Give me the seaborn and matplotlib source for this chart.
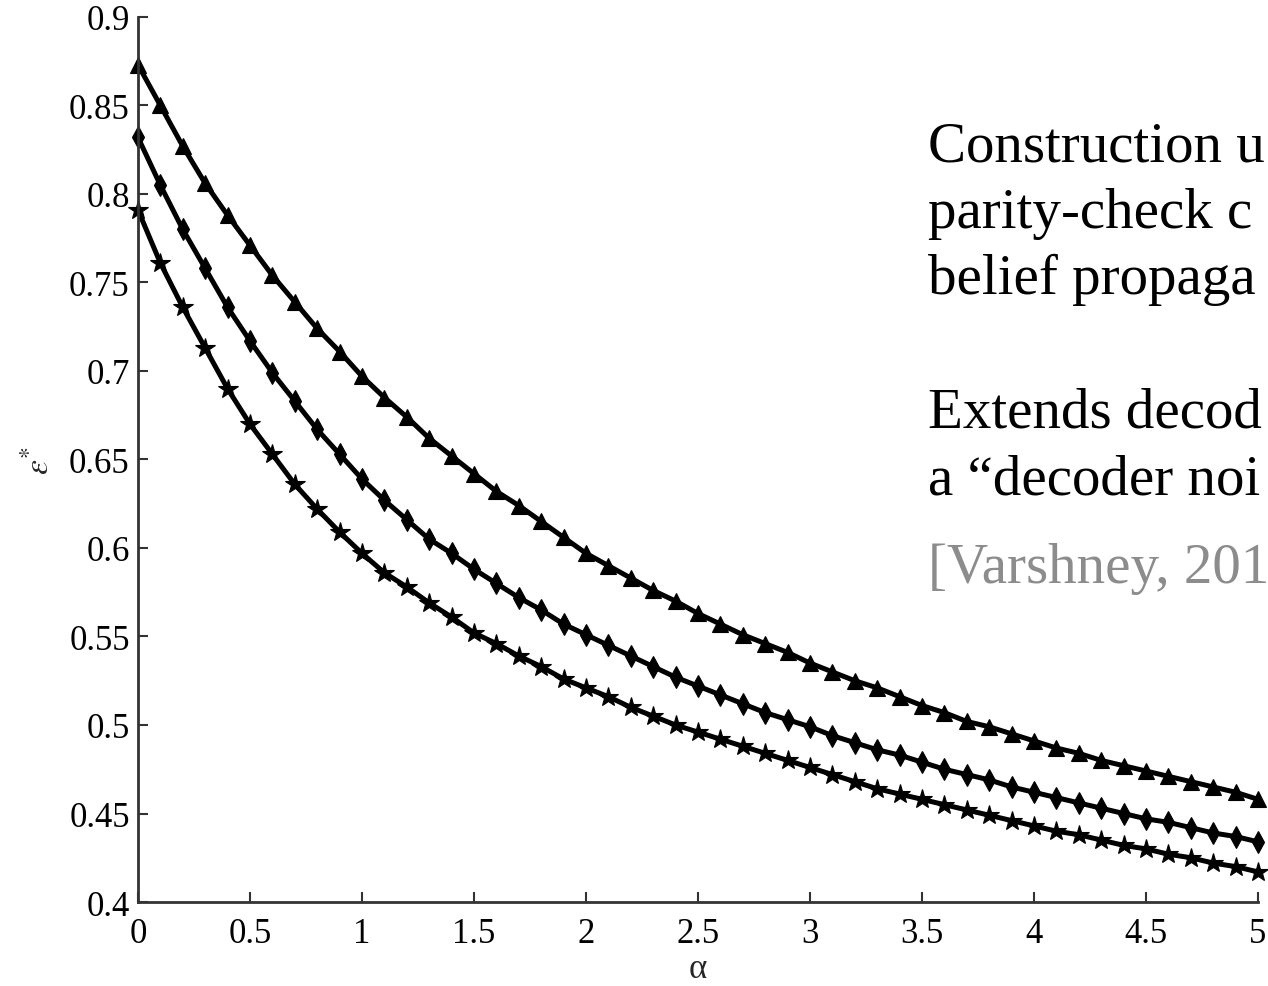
import numpy as np
import pandas as pd
import matplotlib
matplotlib.use("Agg")
import matplotlib.pyplot as plt
import seaborn as sns

# Decoding threshold eps* versus alpha for three code ensembles
alpha = np.round(np.arange(0, 5.01, 0.1), 1)

eps_triangle = [
    0.873, 0.850, 0.827, 0.806, 0.788, 0.771, 0.754, 0.739, 0.724, 0.711,
    0.697, 0.685, 0.674, 0.662, 0.652, 0.642, 0.632, 0.624, 0.615, 0.606,
    0.597, 0.590, 0.583, 0.576, 0.570, 0.563, 0.557, 0.551, 0.546, 0.541,
    0.535, 0.530, 0.525, 0.521, 0.516, 0.511, 0.507, 0.502, 0.499, 0.495,
    0.491, 0.487, 0.484, 0.480, 0.477, 0.474, 0.471, 0.468, 0.465, 0.462,
    0.458,
]
eps_diamond = [
    0.832, 0.805, 0.780, 0.758, 0.736, 0.717, 0.699, 0.683, 0.667, 0.653,
    0.639, 0.627, 0.616, 0.605, 0.597, 0.588, 0.580, 0.572, 0.565, 0.557,
    0.551, 0.545, 0.539, 0.533, 0.527, 0.522, 0.517, 0.512, 0.507, 0.503,
    0.499, 0.494, 0.490, 0.486, 0.483, 0.479, 0.475, 0.472, 0.469, 0.465,
    0.462, 0.459, 0.456, 0.453, 0.450, 0.447, 0.445, 0.442, 0.439, 0.437,
    0.434,
]
eps_star = [
    0.791, 0.761, 0.736, 0.713, 0.690, 0.670, 0.653, 0.636, 0.622, 0.609,
    0.597, 0.586, 0.578, 0.569, 0.561, 0.552, 0.546, 0.539, 0.533, 0.526,
    0.521, 0.516, 0.510, 0.505, 0.500, 0.496, 0.492, 0.488, 0.484, 0.480,
    0.476, 0.472, 0.468, 0.464, 0.461, 0.458, 0.455, 0.452, 0.449, 0.446,
    0.443, 0.440, 0.438, 0.435, 0.432, 0.430, 0.427, 0.425, 0.422, 0.420,
    0.417,
]

x_ticks = [0, 0.5, 1, 1.5, 2, 2.5, 3, 3.5, 4, 4.5, 5]
x_tick_labels = ["0", "0.5", "1", "1.5", "2", "2.5", "3", "3.5", "4", "4.5", "5"]
y_ticks = [0.4, 0.45, 0.5, 0.55, 0.6, 0.65, 0.7, 0.75, 0.8, 0.85, 0.9]
y_tick_labels = ["0.4", "0.45", "0.5", "0.55", "0.6", "0.65", "0.7", "0.75", "0.8", "0.85", "0.9"]

notes = [
    "Construction u",
    "parity-check c",
    "belief propaga",
    "",
    "Extends decod",
    "a \u201cdecoder noi",
]
citation = "[Varshney, 201"

df = pd.concat([
    pd.DataFrame({"alpha": alpha, "eps": eps_triangle, "curve": "tri"}),
    pd.DataFrame({"alpha": alpha, "eps": eps_diamond, "curve": "dia"}),
    pd.DataFrame({"alpha": alpha, "eps": eps_star, "curve": "star"}),
])

sns.set_theme(style="ticks")
plt.rcParams["font.family"] = ["Liberation Serif", "DejaVu Serif"]
plt.rcParams["mathtext.fontset"] = "stix"

fig = plt.figure(figsize=(12.68, 9.87), dpi=100)
ax = fig.add_axes([0.1088, 0.0851, 0.8833, 0.8967])

marker_map = {"tri": "^", "dia": "d", "star": "*"}
sns.lineplot(
    data=df, x="alpha", y="eps", style="curve", markers=marker_map,
    dashes=False, color="black", linewidth=3.6, markersize=12,
    markeredgecolor="black", markeredgewidth=0.8, legend=False, ax=ax,
    sort=False,
)
size_map = {"^": 12, "d": 11, "*": 15}
for ln in ax.lines:
    m = ln.get_marker()
    if m in size_map:
        ln.set_markersize(size_map[m])
    ln.set_clip_on(False)
    ln.set_color("black")
    ln.set_markerfacecolor("black")

ax.set_xlim(0, 5)
ax.set_ylim(0.4, 0.9)
ax.set_xticks(x_ticks)
ax.set_xticklabels(x_tick_labels)
ax.set_yticks(y_ticks)
ax.set_yticklabels(y_tick_labels)
ax.tick_params(direction="in", length=7, width=1.5, color="#333333",
               labelsize=25, labelcolor="black")
ax.tick_params(axis="x", pad=11)
ax.tick_params(axis="y", pad=6)
for side in ("top", "right"):
    ax.spines[side].set_visible(False)
for side in ("left", "bottom"):
    ax.spines[side].set_color("#333333")
    ax.spines[side].set_linewidth(2)

ax.set_xlabel("\u03b1", fontsize=25, labelpad=1)
ax.set_ylabel(r"$\varepsilon^{*}$", fontsize=24, labelpad=10)

y0 = 0.851
step = 0.0675
for i, line in enumerate(notes):
    if line:
        fig.text(0.7319, y0 - i * step, line, fontsize=41, color="black",
                 va="center", ha="left")
fig.text(0.7319, y0 - 6 * step - 0.022, citation, fontsize=41,
         color="#8c8c8c", va="center", ha="left")

fig.savefig("out.png", dpi=100)
